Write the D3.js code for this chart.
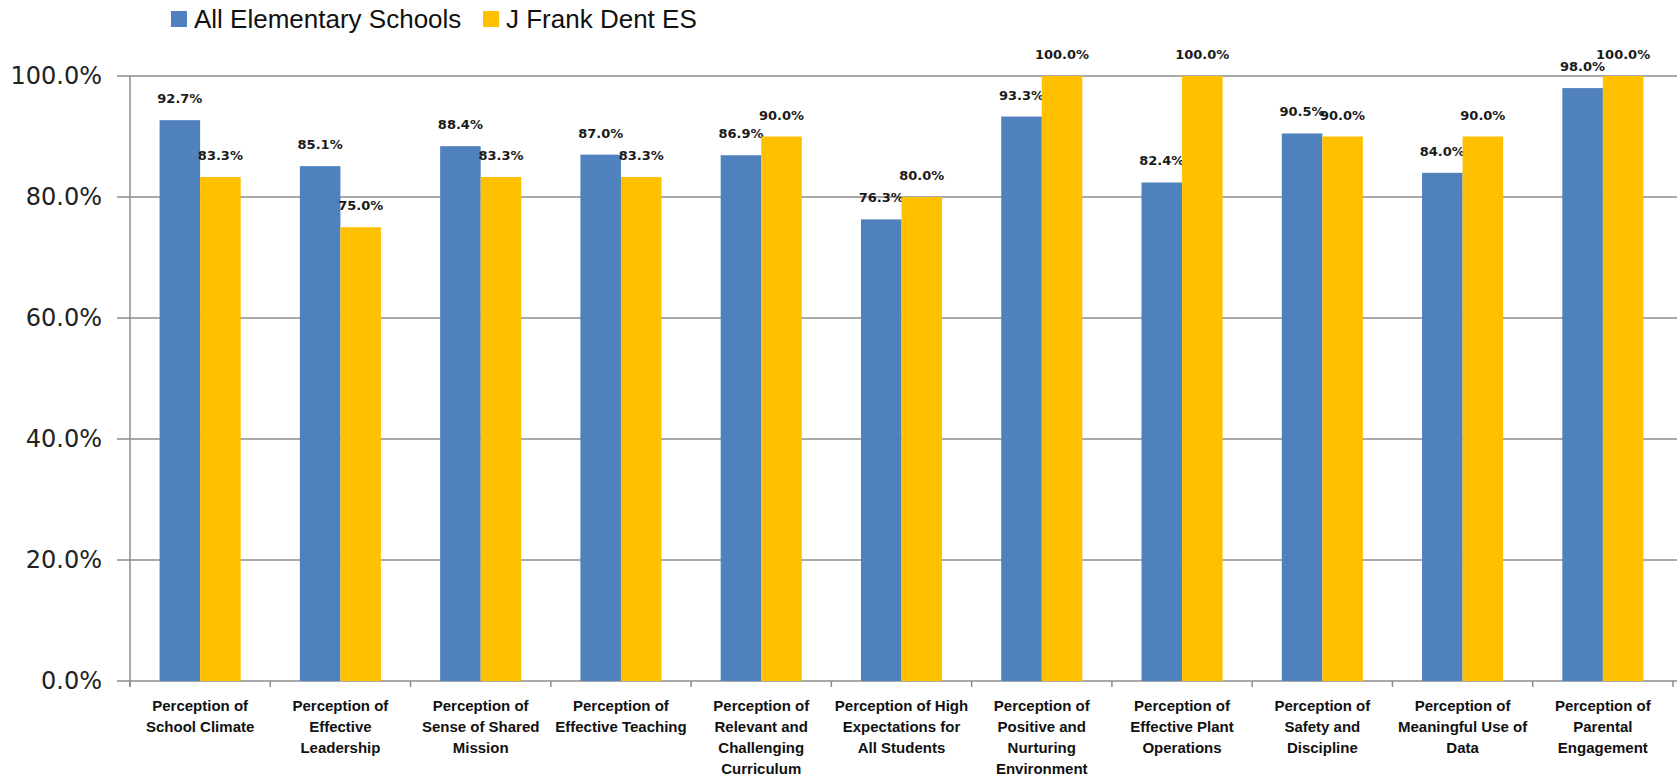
<!DOCTYPE html>
<html>
<head>
<meta charset="utf-8">
<script src="https://cdn.jsdelivr.net/npm/d3@7"></script>
<style>
  body { margin: 0; background: #fff; }
  .y.axis text { font-family: "DejaVu Sans", Verdana, sans-serif; font-size: 24px; fill: #222; }
  .cat text { font-family: "Liberation Sans", Arial, sans-serif; font-weight: bold; font-size: 15px; fill: #111; }
  .dlabel { font-family: "DejaVu Sans", Verdana, sans-serif; font-weight: bold; font-size: 13px; fill: #1a1a1a; }
  .legend text { font-family: "Liberation Sans", Arial, sans-serif; font-size: 26px; fill: #111; }
</style>
</head>
<body>
<div id="chart"></div>
<script>
// Categories (one array of lines per tick label).
var categories = [
  ["Perception of", "School Climate"],
  ["Perception of", "Effective", "Leadership"],
  ["Perception of", "Sense of Shared", "Mission"],
  ["Perception of", "Effective Teaching"],
  ["Perception of", "Relevant and", "Challenging", "Curriculum"],
  ["Perception of High", "Expectations for", "All Students"],
  ["Perception of", "Positive and", "Nurturing", "Environment"],
  ["Perception of", "Effective Plant", "Operations"],
  ["Perception of", "Safety and", "Discipline"],
  ["Perception of", "Meaningful Use of", "Data"],
  ["Perception of", "Parental", "Engagement"]
];
var seriesNames = ["All Elementary Schools", "J Frank Dent ES"];
var allSchools = [92.7, 85.1, 88.4, 87.0, 86.9, 76.3, 93.3, 82.4, 90.5, 84.0, 98.0];
var dentES = [83.3, 75.0, 83.3, 83.3, 90.0, 80.0, 100.0, 100.0, 90.0, 90.0, 100.0];
var yTicks = [0, 20, 40, 60, 80, 100];
var colors = ["#4F81BD", "#FFC000"];

var width = 1677, height = 783;
var margin = {top: 76, right: 4, bottom: 102, left: 130};

var svg = d3.select("#chart").append("svg")
    .attr("width", width)
    .attr("height", height);

var keys = categories.map(function(d, i) { return i; });

var x = d3.scaleBand().domain(keys)
    .range([margin.left, width - margin.right]).padding(0);
var x1 = d3.scaleBand().domain([0, 1])
    .range([0, x.step()]).paddingInner(0).paddingOuter(0.73);
var y = d3.scaleLinear().domain([0, 100])
    .range([height - margin.bottom, margin.top]);

// gridlines
svg.append("g")
    .selectAll("line")
    .data(yTicks)
    .enter().append("line")
    .attr("x1", margin.left - 13)
    .attr("x2", width)
    .attr("y1", function(d) { return y(d); })
    .attr("y2", function(d) { return y(d); })
    .attr("stroke", "#8c8c8c")
    .attr("stroke-width", 1.5);

// y axis labels
var yAxis = svg.append("g")
    .attr("class", "y axis")
    .attr("transform", "translate(" + (margin.left - 28) + ",0)")
    .call(d3.axisLeft(y).tickValues(yTicks).tickSize(0).tickPadding(0)
      .tickFormat(function(d) { return d.toFixed(1) + "%"; }));
yAxis.select(".domain").remove();

// y axis line
svg.append("line")
    .attr("x1", margin.left).attr("x2", margin.left)
    .attr("y1", y(100)).attr("y2", y(0) + 6)
    .attr("stroke", "#8c8c8c").attr("stroke-width", 1.5);

// x ticks at band boundaries
svg.append("g")
    .selectAll("line")
    .data(d3.range(categories.length + 1))
    .enter().append("line")
    .attr("x1", function(i) { return margin.left + i * x.step(); })
    .attr("x2", function(i) { return margin.left + i * x.step(); })
    .attr("y1", y(0))
    .attr("y2", y(0) + 6)
    .attr("stroke", "#8c8c8c").attr("stroke-width", 1.5);

// bars + value labels
var series = [allSchools, dentES];
series.forEach(function(vals, s) {
  svg.append("g").selectAll("rect")
      .data(vals)
      .enter().append("rect")
      .attr("x", function(d, i) { return x(i) + x1(s); })
      .attr("width", x1.bandwidth())
      .attr("y", function(d) { return y(d); })
      .attr("height", function(d) { return y(0) - y(d); })
      .attr("fill", colors[s]);

  svg.append("g").selectAll("text")
      .data(vals)
      .enter().append("text")
      .attr("class", "dlabel")
      .attr("text-anchor", "middle")
      .attr("x", function(d, i) { return x(i) + x1(s) + x1.bandwidth() / 2; })
      .attr("y", function(d) { return y(d) - 17; })
      .text(function(d) { return d.toFixed(1) + "%"; });
});

// category labels
var cat = svg.append("g").attr("class", "cat")
    .selectAll("text")
    .data(categories)
    .enter().append("text")
    .attr("text-anchor", "middle")
    .attr("x", function(d, i) { return x(i) + x.bandwidth() / 2; })
    .attr("y", y(0) + 30);
cat.selectAll("tspan")
    .data(function(d) { return d; })
    .enter().append("tspan")
    .attr("x", function() { return d3.select(this.parentNode).attr("x"); })
    .attr("dy", function(d, j) { return j === 0 ? 0 : 21; })
    .text(function(d) { return d; });

// legend
var legendX = [171, 483];
var legend = svg.append("g").attr("class", "legend")
    .selectAll("g")
    .data(seriesNames)
    .enter().append("g")
    .attr("transform", function(d, i) { return "translate(" + legendX[i] + ",0)"; });
legend.append("rect")
    .attr("x", 0).attr("y", 11)
    .attr("width", 16).attr("height", 16)
    .attr("fill", function(d, i) { return colors[i]; });
legend.append("text")
    .attr("x", 23).attr("y", 28)
    .text(function(d) { return d; });
</script>
</body>
</html>
